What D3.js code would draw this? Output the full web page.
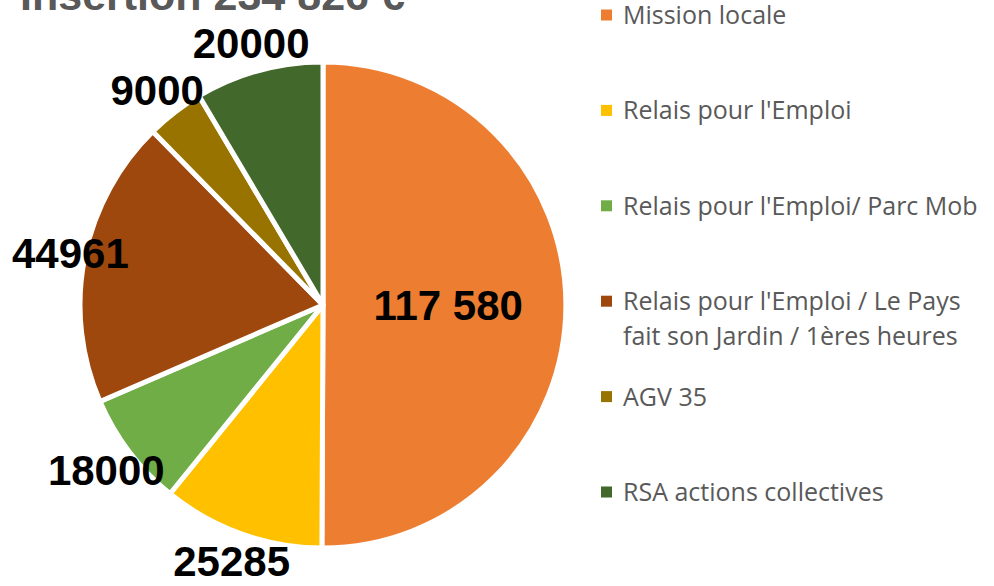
<!DOCTYPE html>
<html>
<head>
<meta charset="utf-8">
<script src="https://cdn.jsdelivr.net/npm/d3@7"></script>
<style>
  body { margin: 0; background: #fff; }
  svg { display: block; }
</style>
</head>
<body>
<div id="chart"></div>
<script>
// data
var titleText = "Insertion 234 826 \u20ac";
var categories = ["Mission locale", "Relais pour l'Emploi", "Relais pour l'Emploi/ Parc Mob",
  "Relais pour l'Emploi / Le Pays fait son Jardin / 1\u00e8res heures", "AGV 35", "RSA actions collectives"];
var legendLines = [["Mission locale"], ["Relais pour l'Emploi"], ["Relais pour l'Emploi/ Parc Mob"],
  ["Relais pour l'Emploi / Le Pays", "fait son Jardin / 1\u00e8res heures"], ["AGV 35"], ["RSA actions collectives"]];
var values = [117580, 25285, 18000, 44961, 9000, 20000];
var valueLabels = ["117 580", "25285", "18000", "44961", "9000", "20000"];
var colors = ["#ED7D31", "#FFC000", "#70AD47", "#9E480E", "#997300", "#43682B"];

var width = 994, height = 586;
var cx = 323, cy = 305, radius = 243;

var svg = d3.select("#chart").append("svg")
  .attr("width", width)
  .attr("height", height);

// title, cut off at the top like the original
svg.append("text")
  .attr("x", 20)
  .attr("y", 10)
  .attr("font-family", "Liberation Sans, Arial, sans-serif")
  .attr("font-weight", "bold")
  .attr("font-size", 43)
  .attr("fill", "#595959")
  .text(titleText);

var pie = d3.pie().sort(null).value(function(d) { return d; });
var arcs = pie(values);
var arc = d3.arc().innerRadius(0).outerRadius(radius);

var g = svg.append("g").attr("transform", "translate(" + cx + "," + cy + ")");

g.selectAll("path")
  .data(arcs)
  .enter().append("path")
  .attr("d", arc)
  .attr("fill", function(d, i) { return colors[i]; })
  .attr("stroke", "#fff")
  .attr("stroke-width", 5)
  .attr("stroke-linejoin", "round");

// value labels
var labelFont = 42;
g.selectAll("text.val")
  .data(arcs)
  .enter().append("text")
  .attr("class", "val")
  .attr("font-family", "Liberation Sans, Arial, sans-serif")
  .attr("font-weight", "bold")
  .attr("font-size", labelFont)
  .attr("fill", "#000")
  .attr("text-anchor", "middle")
  .attr("dy", "0.36em")
  .text(function(d, i) { return valueLabels[i]; })
  .each(function(d, i) {
    var a = (d.startAngle + d.endAngle) / 2;
    var r = (i === 0) ? radius * 0.515 : 272;
    var x = Math.sin(a) * r, y = -Math.cos(a) * r;
    var w = this.getComputedTextLength();
    // keep labels inside the chart area
    if (cx + x - w / 2 < 12) x = 12 + w / 2 - cx;
    d3.select(this).attr("x", x).attr("y", y);
  });

// legend
var legendTop = 15, legendStep = 95.4, lineStep = 35;
var legend = svg.append("g").attr("transform", "translate(601,0)");
var items = legend.selectAll("g.item")
  .data(legendLines)
  .enter().append("g")
  .attr("class", "item")
  .attr("transform", function(d, i) { return "translate(0," + (legendTop + i * legendStep) + ")"; });

items.append("rect")
  .attr("x", 0)
  .attr("y", -5.5)
  .attr("width", 11)
  .attr("height", 11)
  .attr("fill", function(d, i) { return colors[i]; });

items.each(function(lines) {
  var t = d3.select(this).append("text")
    .attr("font-family", "Open Sans, sans-serif")
    .attr("font-size", 25)
    .attr("fill", "#595959");
  lines.forEach(function(line, j) {
    t.append("tspan")
      .attr("x", 22)
      .attr("y", j * lineStep)
      .attr("dy", "0.36em")
      .text(line);
  });
});
</script>
</body>
</html>
